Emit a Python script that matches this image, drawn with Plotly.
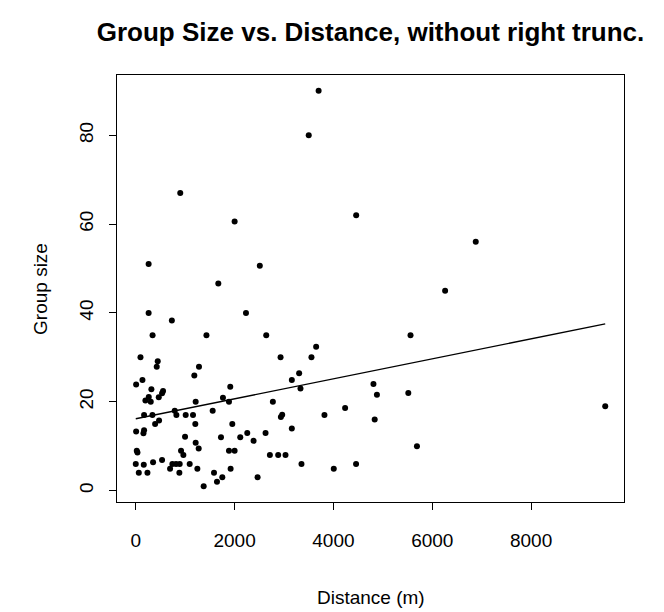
import numpy as np
import plotly.graph_objects as go

# Distance (m) and group size
distance = [3700, 3500, 900, 2000, 4460, 260, 2510, 1670, 6880, 6260, 5560, 4810, 4880, 5515,
            4835, 5690, 9500,
            260, 2230, 730, 340, 1430, 2640, 3650, 95, 2930, 3555, 444, 424, 1279, 1185, 3306,
            3158, 7, 135, 316, 552, 532, 1912, 3333, 195, 263, 303, 465, 1212, 1764, 1886, 2774,
            788, 1556, 168, 337, 822, 1010, 1158, 2936, 2963, 471, 391, 1205, 1953, 3158, 7, 168,
            155, 997, 1724, 2114, 2256, 2626, 2384, 1212, 1273, 916, 963, 20, 34, 1886, 2000, 2714,
            2882, 3030, 0, 162, 350, 532, 694, 740, 815, 889, 1091, 1246, 882, 1919, 3353, 4007,
            4458, 61, 236, 1583, 1751, 1643, 2465, 1374, 3818, 4236]
group_size = [90, 80, 67, 60.6, 62, 51, 50.6, 46.6, 56, 45, 35, 24, 21.6, 22,
              16, 10, 19,
              40, 40, 38.3, 35, 35, 35, 32.4, 30, 30, 30, 29.1, 27.9, 27.9, 25.9, 26.4,
              24.9, 23.9, 24.9, 22.8, 22.4, 21.9, 23.4, 23, 20.3, 21.1, 20, 21, 20, 20.9, 20, 20,
              18, 18, 17, 17, 17, 17, 17, 16.6, 17.1, 15.8, 15, 15, 15, 14, 13.3, 13.6,
              12.9, 12.1, 12, 12, 13, 13, 11.2, 10.8, 9.5, 9, 8, 9, 8.6, 9, 9, 8,
              8, 8, 6, 5.8, 6.4, 6.9, 4.9, 6, 6, 6, 6, 4.9, 4, 4.9, 6, 4.9,
              6, 4, 4, 4, 3, 2, 3, 1, 17, 18.6]

x_ticks = [0, 2000, 4000, 6000, 8000]
y_ticks = [0, 20, 40, 60, 80]

x = np.array(distance, dtype=float)
y = np.array(group_size, dtype=float)
slope, intercept = np.polyfit(x, y, 1)
xs = np.array([x.min(), x.max()])
ys = intercept + slope * xs

def r_range(v):
    lo, hi = float(np.min(v)), float(np.max(v))
    d = hi - lo
    return [lo - 0.04 * d, hi + 0.04 * d]

font = "Liberation Sans, Arial, Helvetica, sans-serif"

fig = go.Figure()
fig.add_trace(go.Scatter(x=x, y=y, mode="markers",
                         marker=dict(color="black", size=6, line=dict(width=0)),
                         showlegend=False, hoverinfo="skip"))
fig.add_trace(go.Scatter(x=xs, y=ys, mode="lines",
                         line=dict(color="black", width=1.4),
                         showlegend=False, hoverinfo="skip"))

axis_common = dict(showgrid=False, zeroline=False, showline=True, linecolor="black",
                   linewidth=1.3, mirror=True, ticks="outside", ticklen=7, tickwidth=1.3,
                   tickcolor="black", tickfont=dict(family=font, size=19, color="black"))

fig.update_xaxes(range=r_range(x), tickvals=x_ticks, ticktext=[str(t) for t in x_ticks],
                 ticklabelstandoff=14, **axis_common)
fig.update_yaxes(range=r_range(y), tickvals=y_ticks, ticktext=[str(t) for t in y_ticks],
                 tickangle=-90, ticklabelstandoff=8, **axis_common)

fig.update_layout(
    width=664, height=612,
    margin=dict(l=117, r=40, t=75, b=110, pad=0),
    paper_bgcolor="white", plot_bgcolor="white",
    title=dict(text="<b>Group Size vs. Distance, without right trunc.</b>",
               font=dict(family=font, size=26, color="black"),
               x=0.5, xref="paper", xanchor="center",
               y=1 - 32 / 612, yref="container", yanchor="middle"),
    annotations=[
        dict(text="Distance (m)", xref="paper", yref="paper", x=0.5, y=-0.223,
             xanchor="center", yanchor="middle", showarrow=False,
             font=dict(family=font, size=19, color="black")),
        dict(text="Group size", xref="paper", yref="paper", x=-0.151, y=0.5,
             xanchor="center", yanchor="middle", showarrow=False, textangle=-90,
             font=dict(family=font, size=19, color="black")),
    ],
)

fig.write_html("out.html")
